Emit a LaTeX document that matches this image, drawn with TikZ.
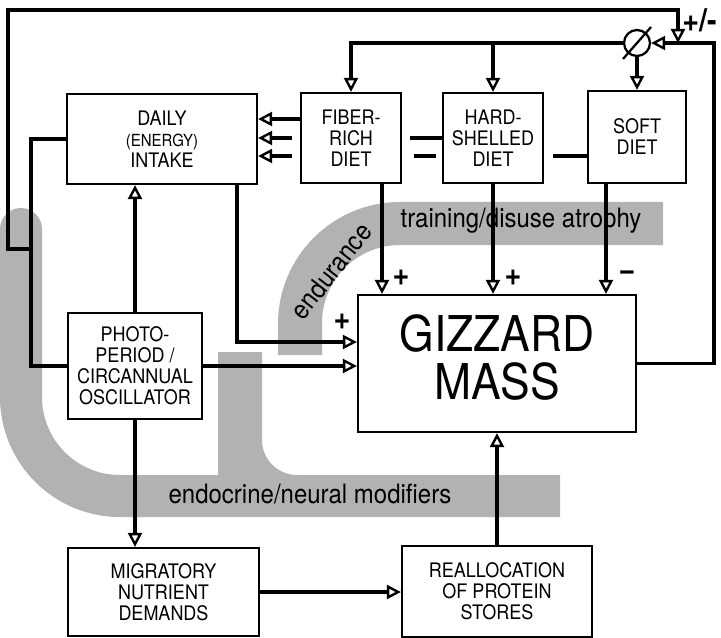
\documentclass[tikz,border=0pt]{standalone}
\usepackage{fontspec}
\setmainfont{TeX Gyre Heros}[FakeStretch=0.9]
\usetikzlibrary{arrows.meta}
\definecolor{bandgray}{gray}{0.7}

\begin{document}
\begin{tikzpicture}[x=0.75pt, y=-0.75pt,
    box/.style={rectangle, draw, line width=1.7pt, align=center, inner sep=0pt, font=\fontsize{15}{15.75}\selectfont},
    link/.style={line width=2.5pt},
    arr/.style={link, -{Triangle[open, length=10.5pt, width=10.5pt, line width=1.8pt]}},
    band/.style={fill=bandgray},
    bandtext/.style={font=\fontsize{20}{20}\selectfont},
    sign/.style={font=\fontsize{24}{24}\selectfont\bfseries}]
    \useasboundingbox (0,0) rectangle (721,638);

    \fill[band] (0,397) -- (0,229) arc[start angle=180, end angle=360, radius=21] -- (42,397) arc[start angle=180, end angle=90, radius=78] -- (560,475) -- (560,517) -- (120,517) arc[start angle=90, end angle=180, radius=120] -- cycle;
    \fill[band] (218,352) -- (262,352) -- (262,440) arc[start angle=180, end angle=90, radius=35] -- (297,480) -- (218,480) -- cycle;
    \fill[band] (278,355) -- (278,324) arc[start angle=180, end angle=270, radius=122] -- (663,202) -- (663,245) -- (400,245) arc[start angle=270, end angle=180, radius=78] -- (322,355) -- cycle;

    \node[bandtext, rotate=52] (endur) at (331,271) {endurance};
    \node[bandtext, anchor=base] (train) at (521,228) {training/disuse atrophy};
    \node[bandtext, anchor=base] (endo) at (310,503) {endocrine/neural modifiers};

    \node[box, minimum width=142.5pt, minimum height=67.5pt] (daily) at (162,139) {DAILY\\{\fontsize{12.5}{15.75}\selectfont(ENERGY)}\\INTAKE};
    \node[box, minimum width=75pt, minimum height=67.5pt] (fiber) at (351,138) {FIBER-\\RICH\\DIET};
    \node[box, minimum width=75pt, minimum height=67.5pt] (hard) at (493,138) {HARD-\\SHELLED\\DIET};
    \node[box, minimum width=73.5pt, minimum height=69pt] (soft) at (637,137) {SOFT\\DIET};
    \node[box, minimum width=100.5pt, minimum height=79.5pt] (photo) at (135,366) {PHOTO-\\PERIOD /\\CIRCANNUAL\\OSCILLATOR};
    \node[box, minimum width=208.5pt, minimum height=102.75pt, text depth=9pt, font=\fontsize{37}{36}\selectfont] (gizz) at (497,363.5) {GIZZARD\\MASS};
    \node[box, minimum width=143.25pt, minimum height=66pt] (migr) at (163.5,592) {MIGRATORY\\NUTRIENT\\DEMANDS};
    \node[box, minimum width=142.5pt, minimum height=68.25pt] (realloc) at (497,591.5) {REALLOCATION\\OF PROTEIN\\STORES};

    \node[draw, circle, line width=1.7pt, minimum size=19.5pt, inner sep=0pt] (mod) at (637,43) {};
    \draw[line width=1.7pt] (mod.center) ++(-14,16) -- ++(28,-32);

    \coordinate (lane1) at (0,119);
    \coordinate (lane2) at (0,138);
    \coordinate (lane3) at (0,156);
    \coordinate (dg) at (0,342);
    \coordinate (tap) at (32,249);
    \coordinate (corner) at (8,10);
    \coordinate (pm) at (678,43);
    \coordinate (rc) at (714,43);

    \draw[arr] (fiber.west |- lane1) -- (daily.east |- lane1);
    \draw[link] (hard.west |- lane2) -- ([xshift=6pt]fiber.east |- lane2);
    \draw[arr] ([xshift=-6pt]fiber.west |- lane2) -- (daily.east |- lane2);
    \draw[link] (soft.west |- lane3) -- ([xshift=6.75pt]hard.east |- lane3);
    \draw[link] ([xshift=-4.5pt]hard.west |- lane3) -- ([xshift=9pt]fiber.east |- lane3);
    \draw[arr] ([xshift=-6pt]fiber.west |- lane3) -- (daily.east |- lane3);

    \draw[arr] (mod.west) -| (fiber.north);
    \draw[arr] (hard.north |- mod.west) -- (hard.north);
    \draw[arr] (mod.south) -- (soft.north);
    \draw[arr] (gizz.east) -| (rc) -- (mod.east);
    \draw[link] (daily.west) -- ++(-35,0) |- (photo.west);
    \draw[arr] (tap) -| (corner) -| (pm);

    \draw[arr] ([xshift=23.25pt]fiber.south) -- ([xshift=23.25pt]fiber.south |- gizz.north);
    \draw[arr] (hard.south) -- (hard.south |- gizz.north);
    \draw[arr] ([xshift=-23.25pt]soft.south) -- ([xshift=-23.25pt]soft.south |- gizz.north);
    \draw[arr] ([xshift=56.25pt]daily.south) |- (gizz.west |- dg);
    \draw[arr] (photo.east) -- (photo.east -| gizz.west);
    \draw[arr] (photo.north) -- (photo.north |- daily.south);
    \draw[arr] (photo.south) -- (photo.south |- migr.north);
    \draw[arr] (migr.east) -- (migr.east -| realloc.west);
    \draw[arr] (realloc.north) -- (realloc.north |- gizz.south);

    \node[sign] (plus1) at (401,278) {+};
    \node[sign] (plus2) at (513,278) {+};
    \node[sign] (minus) at (627,276) {\textminus};
    \node[sign] (plus3) at (342,322) {+};
    \node[sign, anchor=west, inner sep=0pt] (pmlab) at (682,20) {+/-};
\end{tikzpicture}
\end{document}
